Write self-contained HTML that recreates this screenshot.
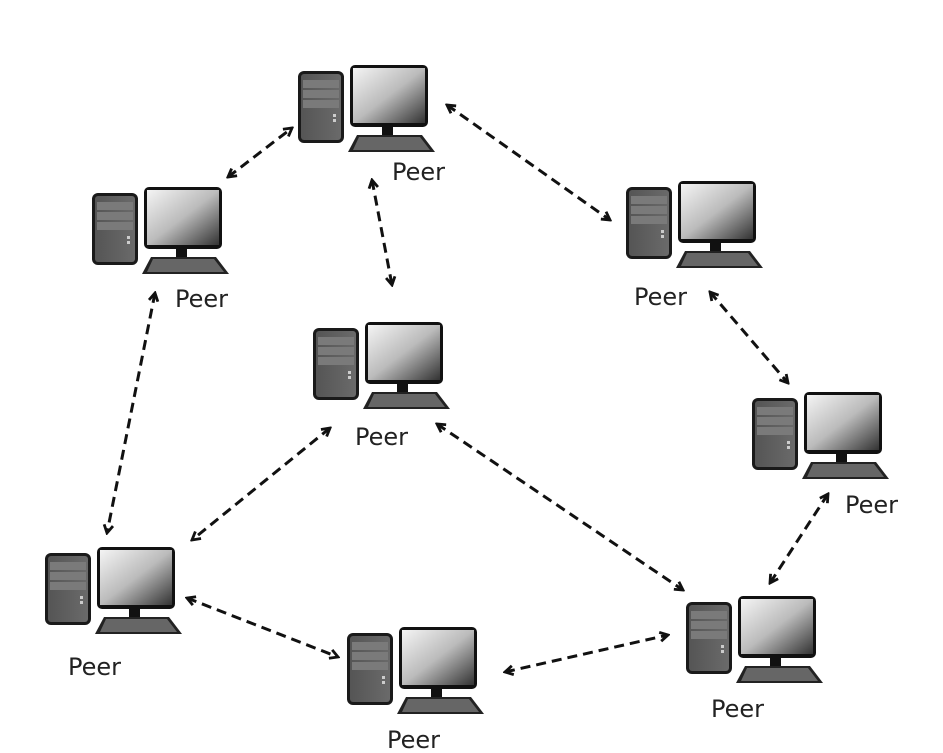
<!DOCTYPE html>
<html><head><meta charset="utf-8"><style>
html,body{margin:0;padding:0;background:#fff;}
svg{display:block}
text{font-family:"DejaVu Sans","Liberation Sans",sans-serif;font-size:24px;fill:#222}
</style></head><body>
<svg width="943" height="753" viewBox="0 0 943 753" xmlns="http://www.w3.org/2000/svg">
<defs>
<linearGradient id="scr" x1="0" y1="0" x2="1" y2="1">
<stop offset="0" stop-color="#f4f4f4"/><stop offset="0.5" stop-color="#bbb"/><stop offset="1" stop-color="#333"/>
</linearGradient>
<linearGradient id="tw" x1="0" y1="0" x2="1" y2="0">
<stop offset="0" stop-color="#555"/><stop offset="1" stop-color="#6a6a6a"/>
</linearGradient>
<g id="pc">
<rect x="1" y="6" width="46" height="72" rx="6" fill="#1a1a1a"/>
<rect x="4" y="9" width="40" height="66" rx="3" fill="url(#tw)"/>
<rect x="6" y="15" width="36" height="8" fill="#7a7a7a"/>
<rect x="6" y="25" width="36" height="8" fill="#7a7a7a"/>
<rect x="6" y="35" width="36" height="8" fill="#7a7a7a"/>
<rect x="36" y="49" width="3" height="3" fill="#ccc"/><rect x="36" y="54" width="3" height="3" fill="#ccc"/>
<rect x="53" y="0" width="78" height="62" rx="5" fill="#111"/>
<rect x="56" y="3" width="72" height="55" fill="url(#scr)"/>
<rect x="85" y="62" width="11" height="9" fill="#111"/>
<polygon points="60,70 125,70 138,87 51,87" fill="#222"/>
<polygon points="62,72 123,72 133,85 56,85" fill="#666"/>
</g>
<marker id="ah" viewBox="0 0 12 12" refX="10" refY="6" markerWidth="12" markerHeight="12" orient="auto-start-reverse" markerUnits="userSpaceOnUse">
<path d="M2,1.5 L10,6 L2,10.5" fill="none" stroke="#111" stroke-width="2.8"/>
</marker>
</defs>
<g stroke="#111" stroke-width="3" stroke-dasharray="10,6" fill="none" marker-start="url(#ah)" marker-end="url(#ah)">
<line x1="228" y1="177" x2="292" y2="128"/>
<line x1="372" y1="180" x2="392" y2="285"/>
<line x1="447" y1="105" x2="610" y2="220"/>
<line x1="155" y1="293" x2="107" y2="533"/>
<line x1="710" y1="292" x2="788" y2="383"/>
<line x1="330" y1="428" x2="192" y2="540"/>
<line x1="437" y1="424" x2="683" y2="590"/>
<line x1="828" y1="494" x2="770" y2="583"/>
<line x1="187" y1="598" x2="338" y2="657"/>
<line x1="505" y1="672" x2="668" y2="635"/>
</g>
<use href="#pc" x="297" y="65"/>
<use href="#pc" x="91" y="187"/>
<use href="#pc" x="625" y="181"/>
<use href="#pc" x="312" y="322"/>
<use href="#pc" x="751" y="392"/>
<use href="#pc" x="44" y="547"/>
<use href="#pc" x="346" y="627"/>
<use href="#pc" x="685" y="596"/>
<text x="392" y="180">Peer</text>
<text x="175" y="307">Peer</text>
<text x="634" y="305">Peer</text>
<text x="355" y="445">Peer</text>
<text x="845" y="513">Peer</text>
<text x="68" y="675">Peer</text>
<text x="387" y="748">Peer</text>
<text x="711" y="717">Peer</text>
</svg>
</body></html>
